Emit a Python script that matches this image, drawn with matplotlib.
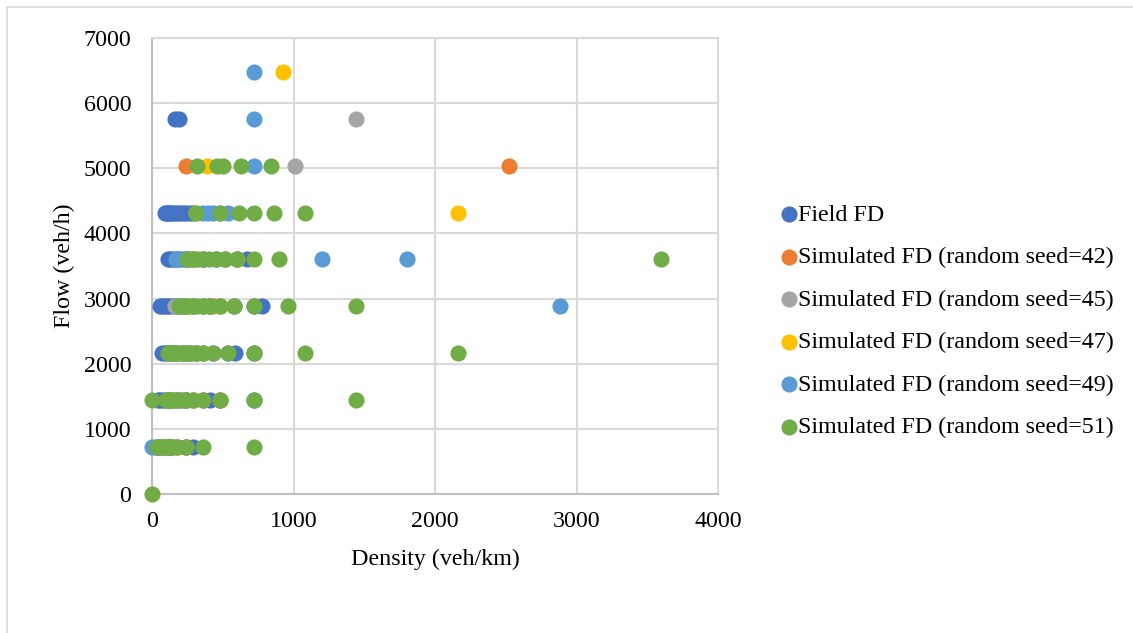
import matplotlib
matplotlib.use("Agg")
import matplotlib.pyplot as plt
from matplotlib.patches import Rectangle

# ---- data (density veh/km, flow veh/h) ----
field_density = [30, 45, 60, 80, 103, 120, 144, 180, 240, 288,
                 40, 60, 80, 96, 120, 144, 180, 206, 240, 288, 360, 411, 480, 720,
                 74, 90, 108, 120, 135, 154, 180, 216, 240, 270, 309, 360, 432, 540, 590, 720,
                 56, 72, 90, 103, 120, 144, 160, 180, 206, 240, 288, 360, 411, 480, 576, 720, 780,
                 116, 129, 144, 164, 180, 200, 225, 257, 300, 360, 450, 514, 600, 670,
                 90, 100, 113, 120, 135, 144, 160, 180, 196, 216, 240, 270, 290,
                 160, 192]
field_flow = [720] * 10 + [1440] * 14 + [2160] * 16 + [2880] * 17 + [3600] * 14 + [4320] * 13 + [5760] * 2

s42_density = [60, 120, 240, 120, 240, 480, 180, 360, 216, 432, 300, 600, 240, 2520]
s42_flow = [720, 720, 720, 1440, 1440, 1440, 2160, 2160, 2880, 2880, 3600, 3600, 5040, 5040]

s45_density = [72, 144, 120, 240, 144, 288, 165, 240, 360, 257, 450, 1008, 1440]
s45_flow = [720, 720, 1440, 1440, 2160, 2160, 2880, 2880, 2880, 3600, 3600, 5040, 5760]

s47_density = [90, 180, 144, 288, 180, 360, 240, 480, 300, 514, 309, 2160, 388, 926]
s47_flow = [720, 720, 1440, 1440, 2160, 2160, 2880, 2880, 3600, 3600, 4320, 4320, 5040, 6480]

s49_density = [0, 60, 120, 110, 240, 160, 320, 200, 400, 2880, 168, 240, 360, 1200, 1800,
               360, 393, 432, 480, 540, 720, 720, 720]
s49_flow = [720, 720, 720, 1440, 1440, 2160, 2160, 2880, 2880, 2880, 3600, 3600, 3600, 3600, 3600,
            4320, 4320, 4320, 4320, 4320, 5040, 5760, 6480]

s51_density = [0,
               36, 48, 60, 72, 90, 103, 120, 144, 180, 240, 360, 720,
               0, 98, 110, 120, 131, 144, 160, 180, 206, 240, 288, 360, 480, 720, 1440,
               115, 120, 135, 144, 154, 166, 180, 196, 216, 240, 270, 309, 360, 432, 540, 720, 1080, 2160,
               192, 206, 222, 240, 262, 288, 320, 360, 411, 480, 580, 720, 960, 1440,
               250, 277, 300, 327, 360, 400, 450, 514, 600, 720, 900, 3600,
               309, 480, 617, 720, 864, 1080,
               315, 458, 504, 630, 840]
s51_flow = ([0] + [720] * 12 + [1440] * 15 + [2160] * 18 + [2880] * 14 + [3600] * 12
            + [4320] * 6 + [5040] * 5)

series = [
    ("Field FD", field_density, field_flow, "#4472C4"),
    ("Simulated FD (random seed=42)", s42_density, s42_flow, "#ED7D31"),
    ("Simulated FD (random seed=45)", s45_density, s45_flow, "#A5A5A5"),
    ("Simulated FD (random seed=47)", s47_density, s47_flow, "#FFC000"),
    ("Simulated FD (random seed=49)", s49_density, s49_flow, "#5B9BD5"),
    ("Simulated FD (random seed=51)", s51_density, s51_flow, "#70AD47"),
]

x_ticks = [0, 1000, 2000, 3000, 4000]
y_ticks = [0, 1000, 2000, 3000, 4000, 5000, 6000, 7000]

plt.rcParams['font.family'] = ['Liberation Serif', 'DejaVu Serif']
FS = 17.3

W, H = 1133, 633
fig = plt.figure(figsize=(W / 100, H / 100), dpi=100)
ax = fig.add_axes([152 / W, 1 - 494 / H, (718 - 152) / W, (494 - 38) / H])

for name, xd, yd, col in series:
    ax.scatter(xd, yd, s=135, color=col, label=name, linewidths=0, zorder=3, clip_on=False)

ax.set_xlim(0, 4000)
ax.set_ylim(0, 7000)
ax.set_xticks(x_ticks)
ax.set_yticks(y_ticks)
ax.tick_params(axis='both', length=0, labelsize=FS)
ax.tick_params(axis='x', pad=12)
ax.tick_params(axis='y', pad=15)
ax.grid(True, color="#D9D9D9", linewidth=1.5, zorder=0)
ax.set_axisbelow(True)
for side in ["top", "right"]:
    ax.spines[side].set_color("#D9D9D9")
    ax.spines[side].set_linewidth(1.5)
for side in ["left", "bottom"]:
    ax.spines[side].set_color("#BFBFBF")
    ax.spines[side].set_linewidth(1.5)

ax.set_xlabel("Density (veh/km)", fontsize=FS, labelpad=12)
ax.set_ylabel("Flow (veh/h)", fontsize=FS, labelpad=6)

leg = ax.legend(loc="center left", bbox_to_anchor=(782 / W, 1 - 321 / H),
                bbox_transform=fig.transFigure, frameon=False, fontsize=FS,
                handlelength=0.6, handletextpad=0.05, labelspacing=0.86,
                borderaxespad=0, borderpad=0, markerscale=1.0)

fig.patches.append(Rectangle((7 / W, -0.1), 1.2, (1 - 7 / H) + 0.1, transform=fig.transFigure,
                             fill=False, edgecolor="#D9D9D9", linewidth=1.2, zorder=0))

fig.savefig("out.png", dpi=100, facecolor="white")
